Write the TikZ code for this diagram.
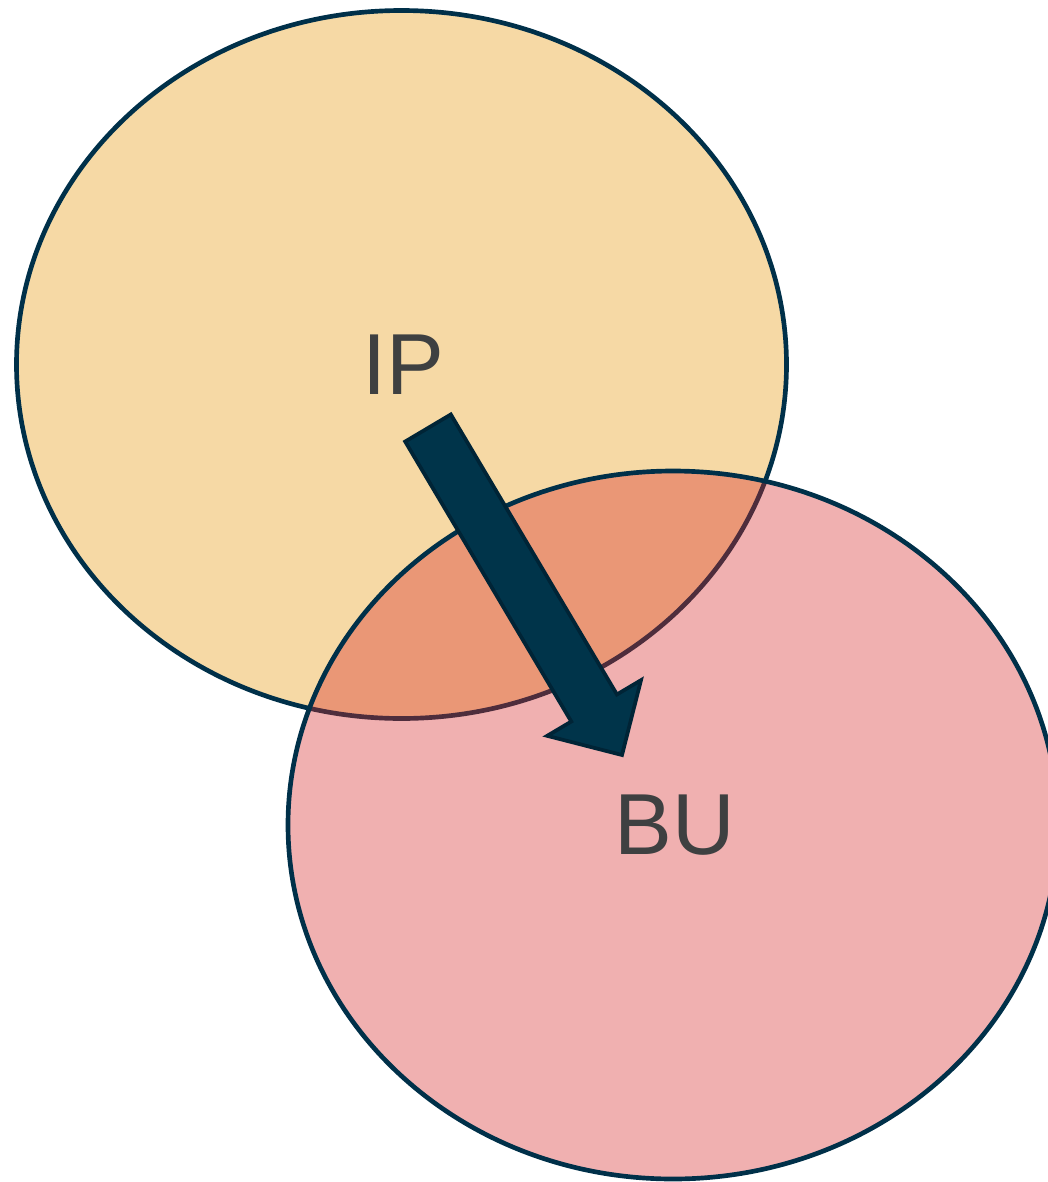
\documentclass[tikz,border=0pt]{standalone}
\usepackage{fontspec}
\setmainfont{Liberation Sans}
\usetikzlibrary{shapes.geometric,calc}
\definecolor{ipfill}{RGB}{246,217,165}
\definecolor{bufill}{RGB}{214,40,40}
\definecolor{setedge}{RGB}{0,48,73}
\definecolor{arrowfill}{RGB}{0,52,74}
\definecolor{arrowedge}{RGB}{0,36,54}
\definecolor{labelgray}{RGB}{62,64,65}

\begin{document}
\begin{tikzpicture}[x=0.75pt,y=-0.75pt,
    set/.style={ellipse,draw=setedge,line width=3.5pt,minimum width=577.5pt,minimum height=531pt,
        text=labelgray,font=\fontsize{65}{65}\selectfont},
    blockarrow/.style={fill=arrowfill,draw=arrowedge,line width=2.8pt,line join=miter}]
            \useasboundingbox (0,0) rectangle (1048,1182);
            \node[set,fill=ipfill] (ip) at (401.5,364.5) {\hspace*{3pt}IP};
            \node[set,fill=bufill,fill opacity=0.37,text opacity=1] (bu) at (673,825) {\hspace*{3pt}BU};
            \coordinate (tail) at (428,428);
            \coordinate (tip) at (622,755);
            \coordinate (neck) at ($(tip)!41pt!(tail)$);
            \draw[blockarrow] ($(tail)!19.9pt!90:(tip)$) -- ($(neck)!19.9pt!90:(tip)$)
                -- ($(neck)!40.9pt!90:(tip)$) -- (tip) -- ($(neck)!40.9pt!-90:(tip)$)
                -- ($(neck)!19.9pt!-90:(tip)$) -- ($(tail)!19.9pt!-90:(tip)$) -- cycle;
        \end{tikzpicture}
\end{document}
